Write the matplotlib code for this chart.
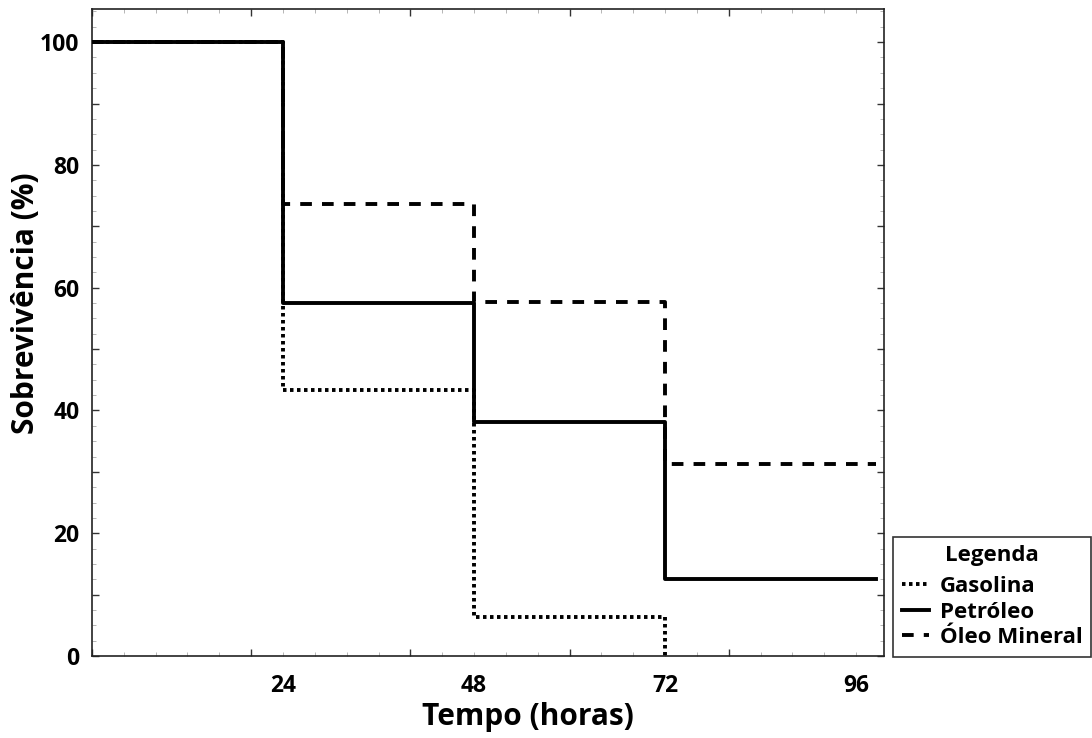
import matplotlib
matplotlib.use("Agg")
import matplotlib.pyplot as plt
from matplotlib.ticker import MultipleLocator

plt.rcParams['font.family'] = ['Open Sans', 'DejaVu Sans']
plt.rcParams['font.weight'] = 'bold'

# Data
tempo = [0, 24, 48, 72, 98.5]
gasolina = [100, 43.3, 6.3, 0]
petroleo = [100, 57.5, 38.2, 12.5]
oleo_mineral = [100, 73.6, 57.6, 31.3]
xtick_vals = [24, 48, 72, 96]
ytick_vals = [0, 20, 40, 60, 80, 100]

fig = plt.figure(figsize=(10.92, 7.38), dpi=100)
ax = fig.add_axes([0.0842, 0.1111, 0.7253, 0.8767])

lw = 2.8
ax.step(tempo[:4], gasolina, where='post', color='black', lw=lw,
        linestyle=(0, (0.9, 0.9)), label='Gasolina', zorder=2)
ax.step(tempo, petroleo + [petroleo[-1]], where='post', color='black', lw=lw,
        linestyle='-', label='Petróleo', zorder=3)
ax.step(tempo, oleo_mineral + [oleo_mineral[-1]], where='post', color='black', lw=lw,
        linestyle=(0, (3.0, 2.6)), label='Óleo Mineral', zorder=2)

ax.set_xlim(0, 99.5)
ax.set_ylim(0, 105.4)

ax.xaxis.set_major_locator(MultipleLocator(20))
ax.xaxis.set_minor_locator(MultipleLocator(4))
ax.yaxis.set_major_locator(MultipleLocator(10))
ax.yaxis.set_minor_locator(MultipleLocator(2.5))
ax.tick_params(which='both', direction='in', top=True, right=True,
               labelbottom=False, labelleft=False, color='#333333')
ax.tick_params(which='major', length=5, width=1)
ax.tick_params(which='minor', length=3, width=0.6, color='#aaaaaa')

secx = ax.secondary_xaxis('bottom')
secx.set_xticks(xtick_vals)
secx.set_xticklabels([str(v) for v in xtick_vals])
secx.tick_params(length=0, labelsize=16.5, pad=13)
secx.spines['bottom'].set_visible(False)
secy = ax.secondary_yaxis('left')
secy.set_yticks(ytick_vals)
secy.set_yticklabels([str(v) for v in ytick_vals])
secy.tick_params(length=0, labelsize=16.5, pad=9)
secy.spines['left'].set_visible(False)

for s in ax.spines.values():
    s.set_linewidth(1.2)
    s.set_color('#222222')

ax.set_xlabel('Tempo (horas)', fontsize=21.5, fontweight='bold')
ax.xaxis.set_label_coords(0.55, -0.071)
ax.set_ylabel('Sobrevivência (%)', fontsize=21.5, fontweight='bold')
ax.yaxis.set_label_coords(-0.064, 0.545)

leg = fig.legend(loc='lower left', bbox_to_anchor=(893/1092, 81/738),
                 title='Legenda', fontsize=16, title_fontsize=16,
                 frameon=True, fancybox=False, edgecolor='black',
                 handlelength=1.2, handletextpad=0.5, borderaxespad=0,
                 labelspacing=0.2, borderpad=0.4)
leg._legend_box.sep = 7
leg.get_title().set_fontweight('bold')
leg.get_frame().set_linewidth(1.2)
for t in leg.get_texts():
    t.set_fontweight('bold')

fig.savefig('out.png', dpi=100)
